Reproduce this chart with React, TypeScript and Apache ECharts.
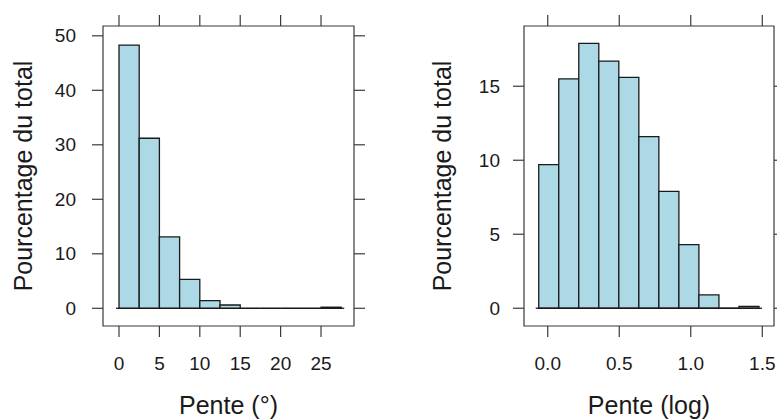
import React, { useEffect, useRef } from "react";
import * as echarts from "echarts";

// Left panel: slope in degrees (histogram, percent of total)
const degreeBinEdges = [0, 2.5, 5, 7.5, 10, 12.5, 15, 17.5, 20, 22.5, 25, 27.5];
const degreePercent = [48.3, 31.2, 13.1, 5.3, 1.4, 0.6, 0, 0, 0, 0, 0.2];
const degreeTicks = [0, 5, 10, 15, 20, 25];
const degreePercentTicks = [0, 10, 20, 30, 40, 50];

// Right panel: log10 slope
const logBinEdges = [-0.063, 0.077, 0.217, 0.357, 0.497, 0.637, 0.777, 0.917, 1.057, 1.197, 1.337, 1.477];
const logPercent = [9.7, 15.5, 17.9, 16.7, 15.6, 11.6, 7.9, 4.3, 0.9, 0, 0.12];
const logTicks = [0, 0.5, 1, 1.5];
const logPercentTicks = [0, 5, 10, 15];

const FONT = "'Liberation Sans', Arial, sans-serif";
const TEXT = "#1a1a1a";
const BOX = "#3a3a3a";
const FILL = "#ADD8E6";
const EDGE = "#1a1a1a";
const TICK_LEN = 11;

function histData(edges: number[], values: number[]) {
  return values.map((v, i) => [edges[i], edges[i + 1], v, i, values.length - 1]);
}

function renderBar(params: any, api: any) {
  const x0 = api.value(0);
  const x1 = api.value(1);
  const h = api.value(2);
  const idx = api.value(3);
  const last = api.value(4);
  const p0 = api.coord([x0, 0]);
  const p1 = api.coord([x1, h]);
  const ext0 = idx === 0 ? 3 : 0;
  const ext1 = idx === last ? 3 : 0;
  return {
    type: "group",
    children: [
      {
        type: "rect",
        shape: { x: p0[0], y: p1[1], width: p1[0] - p0[0], height: p0[1] - p1[1] },
        style: { fill: FILL, stroke: EDGE, lineWidth: 1.3 },
      },
      {
        type: "line",
        shape: { x1: p0[0] - ext0, y1: p0[1], x2: p1[0] + ext1, y2: p0[1] },
        style: { stroke: EDGE, lineWidth: 1.3 },
      },
    ],
  };
}

// tick marks drawn outward from the panel box, through the axes' scales
function tickSeries(axisIndex: number, data: number[][], dx: number, dy: number) {
  return {
    type: "custom",
    xAxisIndex: axisIndex,
    yAxisIndex: axisIndex,
    data,
    encode: { x: 0, y: 1 },
    clip: false,
    silent: true,
    renderItem: (params: any, api: any) => {
      const p = api.coord([api.value(0), api.value(1)]);
      return {
        type: "line",
        shape: { x1: p[0], y1: p[1], x2: p[0] + dx * TICK_LEN, y2: p[1] + dy * TICK_LEN },
        style: { stroke: BOX, lineWidth: 1.2 },
      };
    },
  };
}

function panelTicks(
  axisIndex: number,
  xr: number[],
  yr: number[],
  xTicks: number[],
  yTicks: number[]
) {
  return [
    tickSeries(axisIndex, xTicks.map((v) => [v, yr[0]]), 0, 1),
    tickSeries(axisIndex, xTicks.map((v) => [v, yr[1]]), 0, -1),
    tickSeries(axisIndex, yTicks.map((v) => [xr[0], v]), -1, 0),
    tickSeries(axisIndex, yTicks.map((v) => [xr[1], v]), 1, 0),
  ];
}

function axis(
  gridIndex: number,
  range: number[],
  ticks: number[],
  name: string,
  fmt: (v: number) => string,
  labelMargin: number,
  nameGap: number,
  dir: "x" | "y"
) {
  return {
    type: "value",
    gridIndex,
    min: range[0],
    max: range[1],
    position: dir === "x" ? "bottom" : "left",
    splitLine: { show: false },
    axisLine: { show: false },
    axisTick: { show: false },
    name,
    nameLocation: "middle",
    nameGap,
    nameRotate: dir === "y" ? 90 : 0,
    nameTextStyle: { fontSize: 25, color: TEXT, fontFamily: FONT, verticalAlign: "middle" },
    axisLabel: {
      show: true,
      customValues: ticks,
      margin: labelMargin,
      fontSize: 19,
      color: TEXT,
      fontFamily: FONT,
      formatter: (v: number) => fmt(v),
    },
  };
}

export default function App() {
  const ref = useRef<HTMLDivElement>(null);
  useEffect(() => {
    if (!ref.current) return;
    const chart = echarts.init(ref.current, null, { renderer: "svg" });
    const degX = [-1.98, 29.08];
    const degY = [-3.25, 51.8];
    const logX = [-0.166, 1.582];
    const logY = [-1.2, 19.07];
    chart.setOption({
      animation: false,
      backgroundColor: "#ffffff",
      textStyle: { fontFamily: FONT },
      grid: [
        { left: 103, top: 26, width: 251, height: 300, show: true, borderColor: BOX, borderWidth: 1.2, backgroundColor: "transparent", containLabel: false, outerBoundsMode: "none" },
        { left: 524, top: 26, width: 250, height: 300, show: true, borderColor: BOX, borderWidth: 1.2, backgroundColor: "transparent", containLabel: false, outerBoundsMode: "none" },
      ],
      xAxis: [
        axis(0, degX, degreeTicks, "Pente (°)", (v) => String(v), 28, 79, "x"),
        axis(1, logX, logTicks, "Pente (log)", (v) => v.toFixed(1), 28, 79, "x"),
      ],
      yAxis: [
        axis(0, degY, degreePercentTicks, "Pourcentage du total", (v) => String(v), 27, 80, "y"),
        axis(1, logY, logPercentTicks, "Pourcentage du total", (v) => String(v), 24, 82, "y"),
      ],
      series: [
        {
          type: "custom",
          xAxisIndex: 0,
          yAxisIndex: 0,
          data: histData(degreeBinEdges, degreePercent),
          encode: { x: [0, 1], y: 2 },
          renderItem: renderBar,
          clip: false,
        },
        {
          type: "custom",
          xAxisIndex: 1,
          yAxisIndex: 1,
          data: histData(logBinEdges, logPercent),
          encode: { x: [0, 1], y: 2 },
          renderItem: renderBar,
          clip: false,
        },
        ...panelTicks(0, degX, degY, degreeTicks, degreePercentTicks),
        ...panelTicks(1, logX, logY, logTicks, logPercentTicks),
      ],
    });
    return () => chart.dispose();
  }, []);
  return (
    <div
      ref={ref}
      style={{ position: "absolute", left: 0, top: 0, width: 777, height: 419, background: "#fff" }}
    />
  );
}
